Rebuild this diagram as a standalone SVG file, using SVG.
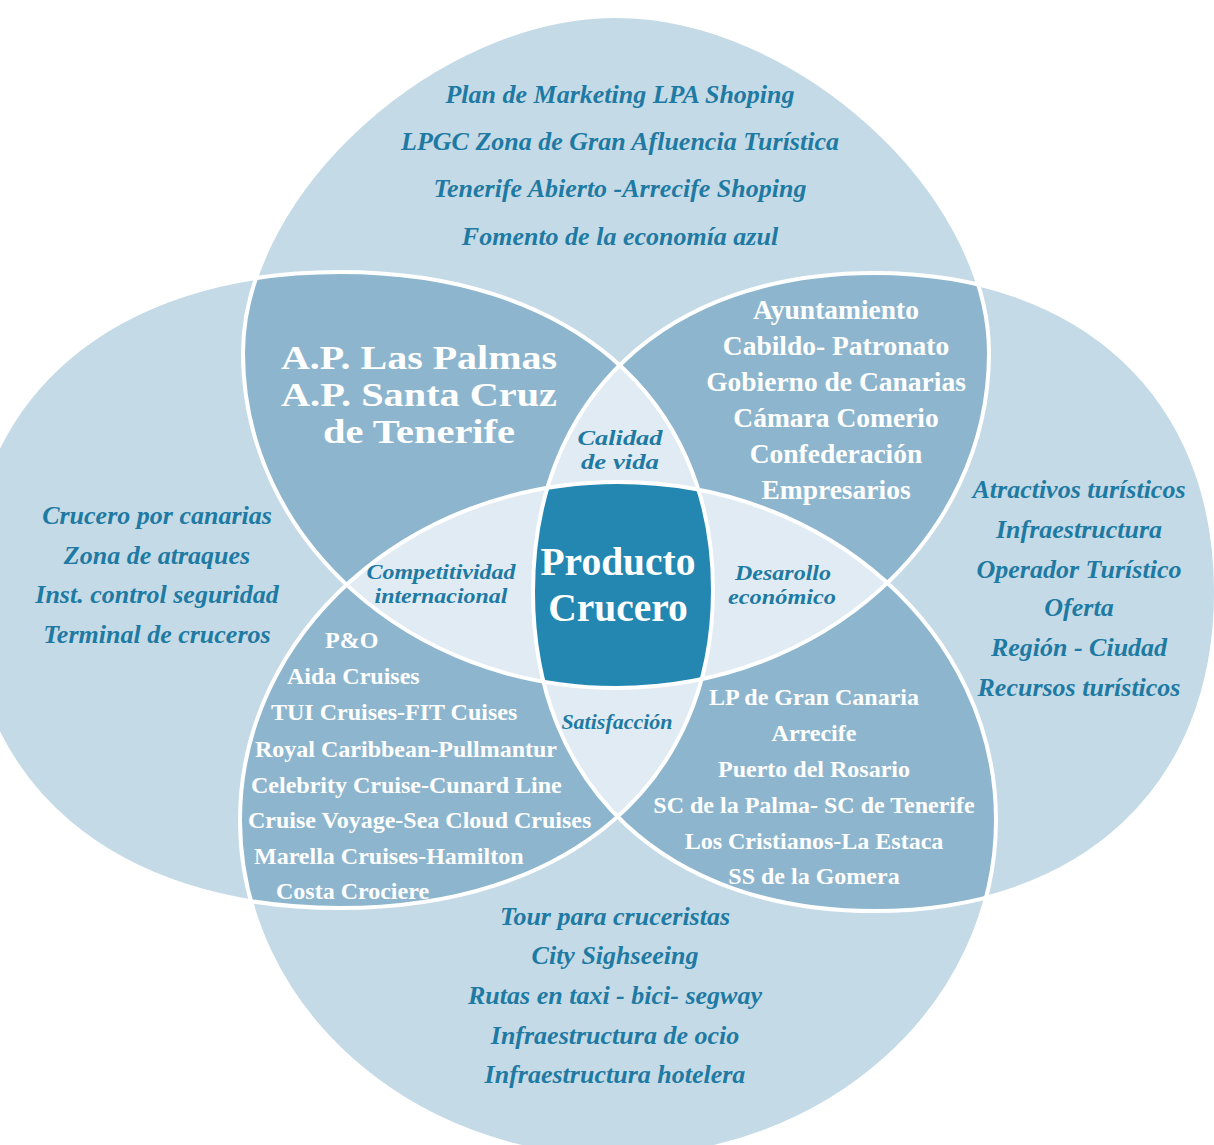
<svg xmlns="http://www.w3.org/2000/svg" width="1214" height="1145" viewBox="0 0 1214 1145">
  <defs>
    <style>
      .c1{fill:#c4dae6}
      .c2{fill:#8db6ce}
      .c3{fill:#e0ebf3}
      .c4{fill:#2387b2}
      .edge{fill:none;stroke:#ffffff;stroke-width:4}
      text{font-family:"Liberation Serif","Times New Roman",serif;font-weight:bold;text-anchor:middle}
      .it{font-style:italic;fill:#1f7aa3;font-size:26px}
      .mid{font-style:italic;fill:#1f7aa3;font-size:21px}
      .wh{fill:#ffffff}
      .big{font-size:39.5px}
      .ap{font-size:33px}
      .l27{font-size:27.5px}
      .l24{font-size:24px}
      .start{text-anchor:start}
    </style>
    <!-- the four overlapping shapes -->
    <path id="shT" d="M989 353C989 191 795 16 616 16C437 16 243 191 243 353C243 538 410 688 616 688C822 688 989 538 989 353Z"/>
    <path id="shL" d="M713 590C713 396 567.5 272 340 272C112.5 272 -33 396 -33 590C-33 784 112.5 908 340 908C567.5 908 713 784 713 590Z"/>
    <path id="shR" d="M1216 592C1216 397.4 1082.8 273 874.5 273C666.2 273 533 397.4 533 592C533 786.6 666.2 911 874.5 911C1082.8 911 1216 786.6 1216 592Z"/>
    <path id="shB" d="M996 820C996 633.3 826.8 482 618 482C409.2 482 240 633.3 240 820C240 1006.7 409.2 1158 618 1158C826.8 1158 996 1006.7 996 820Z"/>
    <clipPath id="cT"><use href="#shT"/></clipPath>
    <clipPath id="cL"><use href="#shL"/></clipPath>
    <clipPath id="cR"><use href="#shR"/></clipPath>
    <clipPath id="cB"><use href="#shB"/></clipPath>
  </defs>

  <rect width="1214" height="1145" fill="#ffffff"/>

  <!-- single areas -->
  <g id="fills-single">
    <use href="#shT" class="c1"/>
    <use href="#shL" class="c1"/>
    <use href="#shR" class="c1"/>
    <use href="#shB" class="c1"/>
  </g>

  <!-- two-way overlaps -->
  <g id="fills-double">
    <g clip-path="url(#cL)"><use href="#shT" class="c2"/></g>
    <g clip-path="url(#cR)"><use href="#shT" class="c2"/></g>
    <g clip-path="url(#cL)"><use href="#shB" class="c2"/></g>
    <g clip-path="url(#cR)"><use href="#shB" class="c2"/></g>
  </g>

  <!-- three-way overlaps -->
  <g id="fills-triple">
    <g clip-path="url(#cL)"><g clip-path="url(#cR)"><use href="#shT" class="c3"/></g></g>
    <g clip-path="url(#cB)"><g clip-path="url(#cL)"><use href="#shT" class="c3"/></g></g>
    <g clip-path="url(#cB)"><g clip-path="url(#cR)"><use href="#shT" class="c3"/></g></g>
    <g clip-path="url(#cL)"><g clip-path="url(#cR)"><use href="#shB" class="c3"/></g></g>
  </g>

  <!-- core where all four meet -->
  <g id="fills-core">
    <g clip-path="url(#cB)"><g clip-path="url(#cL)"><g clip-path="url(#cR)"><use href="#shT" class="c4"/></g></g></g>
  </g>

  <!-- white outlines of the four shapes -->
  <g id="outlines">
    <use href="#shT" class="edge"/>
    <use href="#shL" class="edge"/>
    <use href="#shR" class="edge"/>
    <use href="#shB" class="edge"/>
  </g>

  <g id="node-top">
    <text class="it" x="620" y="103">Plan de Marketing LPA Shoping</text>
    <text class="it" x="620" y="150">LPGC Zona de Gran Afluencia Turística</text>
    <text class="it" x="620" y="197">Tenerife Abierto -Arrecife Shoping</text>
    <text class="it" x="620" y="245">Fomento de la economía azul</text>
  </g>

  <g id="node-left">
    <text class="it" x="157" y="524">Crucero por canarias</text>
    <text class="it" x="157" y="564">Zona de atraques</text>
    <text class="it" x="157" y="603">Inst. control seguridad</text>
    <text class="it" x="157" y="643">Terminal de cruceros</text>
  </g>

  <g id="node-right">
    <text class="it" x="1079" y="498">Atractivos turísticos</text>
    <text class="it" x="1079" y="538">Infraestructura</text>
    <text class="it" x="1079" y="578">Operador Turístico</text>
    <text class="it" x="1079" y="616">Oferta</text>
    <text class="it" x="1079" y="656">Región - Ciudad</text>
    <text class="it" x="1079" y="696">Recursos turísticos</text>
  </g>

  <g id="node-bottom">
    <text class="it" x="615" y="925">Tour para cruceristas</text>
    <text class="it" x="615" y="964">City Sighseeing</text>
    <text class="it" x="615" y="1004">Rutas en taxi - bici- segway</text>
    <text class="it" x="615" y="1044">Infraestructura de ocio</text>
    <text class="it" x="615" y="1083">Infraestructura hotelera</text>
  </g>

  <g id="node-top-left">
    <text class="wh ap" x="419" y="369" textLength="276" lengthAdjust="spacingAndGlyphs">A.P. Las Palmas</text>
    <text class="wh ap" x="419" y="406" textLength="276" lengthAdjust="spacingAndGlyphs">A.P. Santa Cruz</text>
    <text class="wh ap" x="419" y="443" textLength="192" lengthAdjust="spacingAndGlyphs">de Tenerife</text>
  </g>

  <g id="node-top-right">
    <text class="wh l27" x="836" y="319">Ayuntamiento</text>
    <text class="wh l27" x="836" y="355">Cabildo- Patronato</text>
    <text class="wh l27" x="836" y="391">Gobierno de Canarias</text>
    <text class="wh l27" x="836" y="427">Cámara Comerio</text>
    <text class="wh l27" x="836" y="463">Confederación</text>
    <text class="wh l27" x="836" y="499">Empresarios</text>
  </g>

  <g id="node-bottom-left">
    <text class="wh l24 start" x="325" y="648">P&amp;O</text>
    <text class="wh l24 start" x="287" y="684">Aida Cruises</text>
    <text class="wh l24 start" x="271" y="720">TUI Cruises-FIT Cuises</text>
    <text class="wh l24 start" x="255" y="757">Royal Caribbean-Pullmantur</text>
    <text class="wh l24 start" x="251" y="793">Celebrity Cruise-Cunard Line</text>
    <text class="wh l24 start" x="248" y="828">Cruise Voyage-Sea Cloud Cruises</text>
    <text class="wh l24 start" x="254" y="864">Marella Cruises-Hamilton</text>
    <text class="wh l24 start" x="276" y="899">Costa Crociere</text>
  </g>

  <g id="node-bottom-right">
    <text class="wh l24" x="814" y="705">LP de Gran Canaria</text>
    <text class="wh l24" x="814" y="741">Arrecife</text>
    <text class="wh l24" x="814" y="777">Puerto del Rosario</text>
    <text class="wh l24" x="814" y="813">SC de la Palma- SC de Tenerife</text>
    <text class="wh l24" x="814" y="849">Los Cristianos-La Estaca</text>
    <text class="wh l24" x="814" y="884">SS de la Gomera</text>
  </g>

  <g id="node-calidad">
    <text class="mid" x="620" y="445" textLength="85" lengthAdjust="spacingAndGlyphs">Calidad</text>
    <text class="mid" x="620" y="469" textLength="78" lengthAdjust="spacingAndGlyphs">de vida</text>
  </g>

  <g id="node-competitividad">
    <text class="mid" x="441" y="579" textLength="149" lengthAdjust="spacingAndGlyphs">Competitividad</text>
    <text class="mid" x="441" y="603" textLength="133" lengthAdjust="spacingAndGlyphs">internacional</text>
  </g>

  <g id="node-desarrollo">
    <text class="mid" x="783" y="580" textLength="96" lengthAdjust="spacingAndGlyphs">Desarollo</text>
    <text class="mid" x="782" y="604" textLength="108" lengthAdjust="spacingAndGlyphs">económico</text>
  </g>

  <g id="node-satisfaccion">
    <text class="mid" x="617" y="729" style="font-size:22px">Satisfacción</text>
  </g>

  <g id="node-core">
    <text class="wh big" x="618" y="575">Producto</text>
    <text class="wh big" x="618" y="621">Crucero</text>
  </g>
</svg>
